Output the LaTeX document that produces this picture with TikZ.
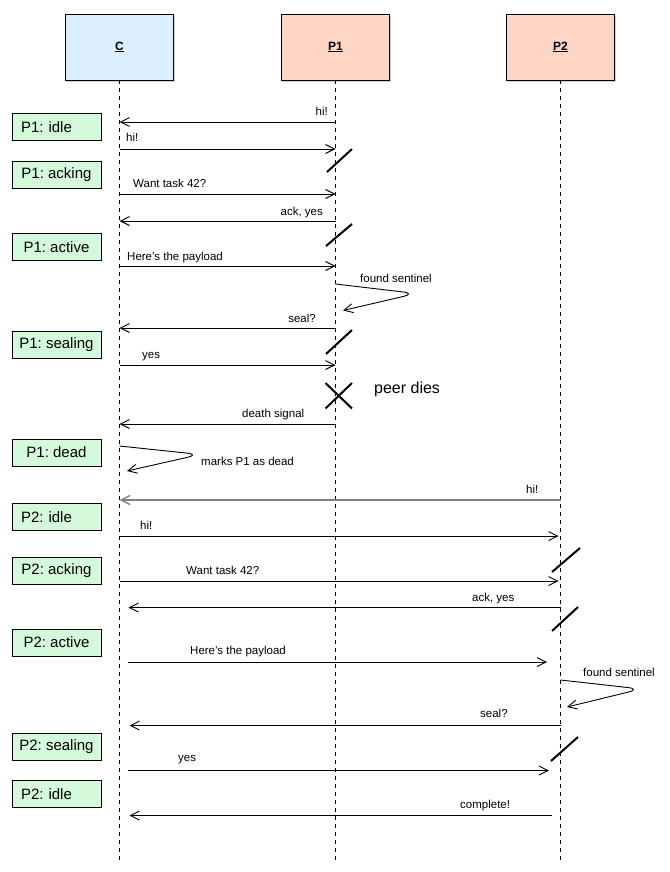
\documentclass[tikz,border=0pt]{standalone}
\usepackage{fontspec}
\setmainfont{Liberation Sans}
\usetikzlibrary{arrows.meta,shadows,calc}
\definecolor{cblue}{HTML}{DAEEFF}
\definecolor{ppink}{HTML}{FFD5C6}
\definecolor{sgreen}{HTML}{D5FADB}
\frenchspacing
\begin{document}
\frenchspacing
\begin{tikzpicture}[x=1pt,y=-1pt,
  actor/.style={draw=black, line width=0.9pt, minimum width=108pt, minimum height=66pt, inner sep=0pt,
    font=\fontsize{12}{14}\selectfont\bfseries,
    drop shadow={shadow xshift=1pt, shadow yshift=-2pt, opacity=0.35}},
  state/.style={draw=black, line width=0.8pt, fill=sgreen, minimum width=89pt, minimum height=27pt,
    inner sep=0pt, font=\fontsize{15}{18}\selectfont\frenchspacing},
  idle/.style={text width=71pt, align=left},
  life/.style={line width=0.8pt, dash pattern=on 4pt off 4pt},
  msg/.style={line width=0.9pt, -{Straight Barb[length=9pt,width=9pt]}},
  graymsg/.style={msg, draw=black!50, line width=1.4pt},
  loopmsg/.style={msg, rounded corners=13pt},
  lbl/.style={inner sep=0pt, font=\fontsize{11.5}{13}\selectfont},
  big/.style={inner sep=0pt, font=\fontsize{16}{18}\selectfont},
  tick/.style={line width=2pt}]

\useasboundingbox (0,0) rectangle (669,872);

% actors
\node[actor, fill=cblue] (C) at (119.5,47) {\underline{C}};
\node[actor, fill=ppink] (P1) at (335.5,47) {\underline{P1}};
\node[actor, fill=ppink] (P2) at (560.5,47) {\underline{P2}};

% lifelines
\coordinate (Cend) at (119.5,860);
\coordinate (P1end) at (335.5,860);
\coordinate (P2end) at (560.5,860);
\draw[life] (C.south) -- (Cend);
\draw[life] (P1.south) -- (P1end);
\draw[life] (P2.south) -- (P2end);

% states
\node[state, idle] (s1) at (56.5,126.8) {P1: idle};
\node[state] (s2) at (56.5,175) {P1: acking};
\node[state] (s3) at (56.5,246.8) {P1: active};
\node[state] (s4) at (56.5,344.5) {P1: sealing};
\node[state] (s5) at (56.5,452.5) {P1: dead};
\node[state, idle] (s6) at (56.5,516.8) {P2: idle};
\node[state] (s7) at (56.5,570.8) {P2: acking};
\node[state] (s8) at (56.5,642.5) {P2: active};
\node[state] (s9) at (56.5,747) {P2: sealing};
\node[state, idle] (s10) at (56.5,793.7) {P2: idle};

% ---- P1 exchange
\draw[msg] (P1 |- 0,122) -- (C |- 0,122);
\node[lbl, anchor=base east] (l1) at (328,116) {hi!};
\draw[msg] (C |- 0,149) -- (P1 |- 0,149);
\node[lbl, anchor=base west] (l2) at (126,142) {hi!};
\draw[tick] (327,172) -- (352,149);

\draw[msg] (C |- 0,194) -- (P1 |- 0,194);
\node[lbl, anchor=base west] (l3) at (133,187) {Want task 42?};
\draw[msg] (P1 |- 0,221) -- (C |- 0,221);
\node[lbl, anchor=base east] (l4) at (323,215) {ack, yes};
\draw[tick] (326,246) -- (352,224);

\draw[msg] (C |- 0,266) -- (P1 |- 0,266);
\node[lbl, anchor=base west] (l5) at (127,260) {Here’s the payload};
\draw[loopmsg] (P1 |- 0,284) -- (416,293.5) -- (343,310.5);
\node[lbl, anchor=base west] (l6) at (360,282) {found sentinel};

\draw[msg] (P1 |- 0,328) -- (C |- 0,328);
\node[lbl, anchor=base east] (l7) at (316,322) {seal?};
\draw[tick] (326,354) -- (352,330);
\draw[msg] (C |- 0,365) -- (P1 |- 0,365);
\node[lbl, anchor=base west] (l8) at (142,358) {yes};

\draw[tick] (325.5,383) -- (352,408.5);
\draw[tick] (325.5,408.5) -- (352,383);
\node[big, anchor=base west] (l9) at (374,393) {peer dies};

\draw[msg] (P1 |- 0,424) -- (C |- 0,424);
\node[lbl, anchor=base west] (l10) at (242,417) {death signal};
\draw[loopmsg] (C |- 0,446) -- (200,454.5) -- (127,471);
\node[lbl, anchor=base west] (l11) at (201,465) {marks P1 as dead};

% ---- P2 exchange
\draw[graymsg] (P2 |- 0,500) -- (C |- 0,500);
\node[lbl, anchor=base west] (l12) at (526,493) {hi!};
\draw[msg] (C |- 0,536) -- ($(P2 |- 0,536)+(-2,0)$);
\node[lbl, anchor=base west] (l13) at (140,529) {hi!};
\draw[tick] (552,572) -- (580,548);

\draw[msg] (C |- 0,581) -- ($(P2 |- 0,581)+(-2,0)$);
\node[lbl, anchor=base west] (l14) at (186,574) {Want task 42?};
\draw[msg] (P2 |- 0,607.5) -- ($(C |- 0,607.5)+(9,0)$);
\node[lbl, anchor=base west] (l15) at (472,601) {ack, yes};
\draw[tick] (552,631) -- (578,607);

\draw[msg] ($(C |- 0,662)+(8.5,0)$) -- ($(P2 |- 0,662)+(-13.5,0)$);
\node[lbl, anchor=base west] (l16) at (190,654) {Here’s the payload};
\draw[loopmsg] (P2 |- 0,680) -- (641,689) -- (567,707);
\node[lbl, anchor=base west] (l17) at (583,676) {found sentinel};

\draw[msg] (P2 |- 0,725.5) -- ($(C |- 0,725.5)+(10,0)$);
\node[lbl, anchor=base west] (l18) at (480,717.5) {seal?};
\draw[tick] (551,761) -- (578,737);
\draw[msg] ($(C |- 0,770.5)+(8.5,0)$) -- ($(P2 |- 0,770.5)+(-11.5,0)$);
\node[lbl, anchor=base west] (l19) at (178,761.5) {yes};

\draw[msg] ($(P2 |- 0,815.5)+(-9,0)$) -- ($(C |- 0,815.5)+(10,0)$);
\node[lbl, anchor=base west] (l20) at (460,808.5) {complete!};
\end{tikzpicture}
\end{document}
